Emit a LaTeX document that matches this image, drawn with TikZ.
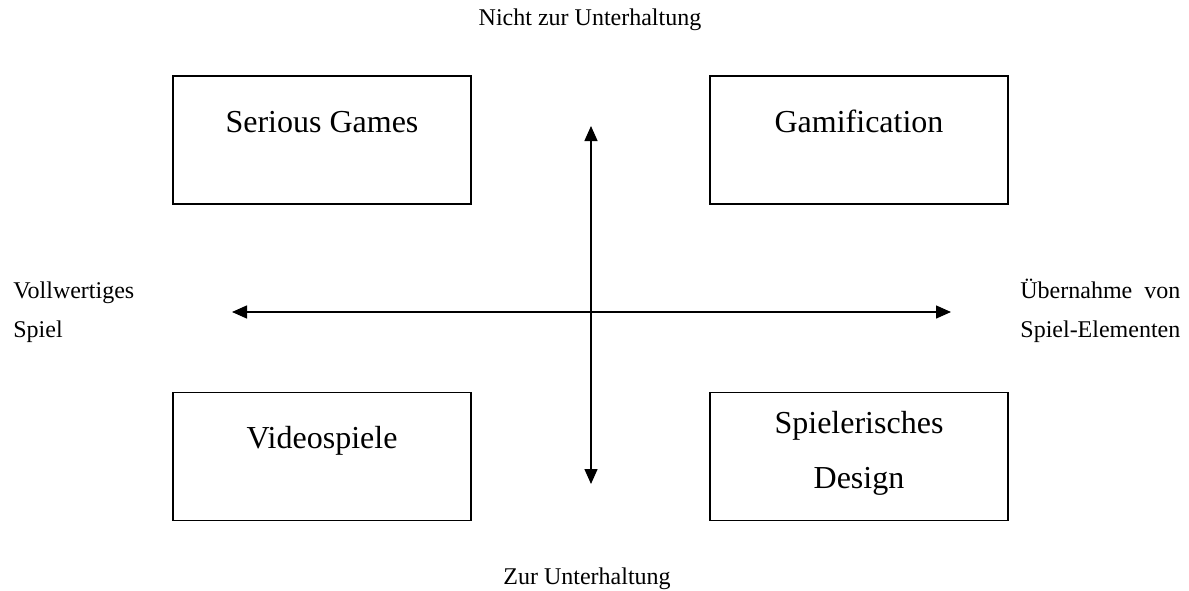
\documentclass[tikz,border=0pt]{standalone}
\usepackage{fontspec}
\setmainfont{Liberation Serif}
\usepackage{calc}
\usetikzlibrary{arrows.meta}
\begin{document}
\begin{tikzpicture}[x=0.5pt,y=-0.5pt,
  quadbox/.style={draw=black,line width=0.7pt,minimum width=149pt,minimum height=64pt,inner sep=0pt,outer sep=0pt},
  bigtext/.style={font=\fontsize{16}{19}\selectfont,anchor=base,inner sep=0pt},
  smalltext/.style={font=\fontsize{12}{14}\selectfont,inner sep=0pt},
  axis/.style={line width=0.7pt,{Triangle[length=7.5pt,width=6.5pt]}-{Triangle[length=7.5pt,width=6.5pt]}}]
\useasboundingbox (0,0) rectangle (1189,590);
% boxes
\node[quadbox] (sg) at (322,140) {};
\node[quadbox] (gm) at (859,140) {};
\node[quadbox] (vs) at (322,456.5) {};
\node[quadbox] (sd) at (859,456.5) {};
% box texts
\node[bigtext] (sgt) at (322,132) {Serious Games};
\node[bigtext] (gmt) at (859,132) {Gamification};
\node[bigtext] (vst) at (322,448) {Videospiele};
\node[bigtext] (sdt1) at (859,433) {Spielerisches};
\node[bigtext] (sdt2) at (859,488) {Design};
% axes
\coordinate (top) at (591,126);
\coordinate (bot) at (591,484);
\coordinate (lft) at (232,312);
\coordinate (rgt) at (951,312);
\draw[axis] (lft) -- (rgt);
\draw[axis] (top) -- (bot);
% axis labels
\node[smalltext,anchor=base] (nzu) at (590,25) {Nicht zur Unterhaltung};
\node[smalltext,anchor=base west] (zu) at (503,584) {Zur Unterhaltung};
\node[smalltext,anchor=base west] (vw1) at (13,298) {Vollwertiges};
\node[smalltext,anchor=base west] (vw2) at (13,337) {Spiel};
\node[smalltext,anchor=base west] (ue1) at (1020,298) {\makebox[\widthof{Spiel-Elementen}][s]{Übernahme von}};
\node[smalltext,anchor=base west] (ue2) at (1020,337) {Spiel-Elementen};
\end{tikzpicture}
\end{document}
